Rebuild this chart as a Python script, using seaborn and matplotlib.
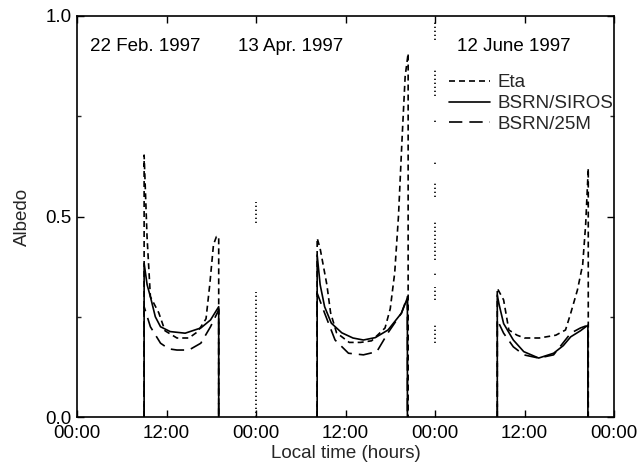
import numpy as np
import pandas as pd
import matplotlib
matplotlib.use("Agg")
import matplotlib.pyplot as plt
from matplotlib.lines import Line2D
import seaborn as sns

# ---------------- data (hours since 00:00 of first day, albedo) ----------------
siros_d1_h = [9.0, 9.0, 9.4, 9.84, 10.5, 11.2, 12.5, 14.5, 16.6, 17.9, 19.0, 19.0]
siros_d1_v = [0, 0.383, 0.33, 0.30, 0.25, 0.225, 0.213, 0.209, 0.222, 0.242, 0.275, 0]
siros_d2_h = [32.2, 32.2, 32.6, 33.2, 34.1, 35.5, 37.0, 38.4, 40.0, 41.7, 43.5, 44.3, 44.3]
siros_d2_v = [0, 0.404, 0.33, 0.275, 0.234, 0.21, 0.197, 0.192, 0.198, 0.217, 0.259, 0.297, 0]
siros_d3_h = [56.35, 56.35, 56.6, 57.2, 58.5, 59.9, 61.9, 63.9, 65.2, 66.2, 67.5, 68.5, 68.5]
siros_d3_v = [0, 0.304, 0.28, 0.233, 0.192, 0.163, 0.147, 0.159, 0.178, 0.20, 0.215, 0.229, 0]

m25_d1_h = [9.0, 9.0, 9.84, 11.2, 12.3, 13.4, 15.0, 16.6, 17.9, 19.0, 19.0]
m25_d1_v = [0, 0.275, 0.225, 0.184, 0.17, 0.167, 0.167, 0.184, 0.225, 0.267, 0]
m25_d2_h = [32.2, 32.2, 33.2, 34.6, 36.4, 38.4, 40.2, 41.7, 43.5, 44.3, 44.3]
m25_d2_v = [0, 0.309, 0.259, 0.192, 0.159, 0.155, 0.163, 0.21, 0.259, 0.30, 0]
m25_d3_h = [56.35, 56.35, 57.2, 58.5, 59.9, 61.9, 63.9, 66.2, 67.5, 68.5, 68.5]
m25_d3_v = [0, 0.242, 0.209, 0.175, 0.155, 0.147, 0.155, 0.209, 0.222, 0.229, 0]

eta_d1_h = [9.0, 9.0, 9.39, 9.84, 10.96, 11.8, 13.4, 15.0, 16.2, 17.3, 17.8, 18.3, 18.7, 19.0, 19.0]
eta_d1_v = [0, 0.653, 0.45, 0.30, 0.26, 0.215, 0.197, 0.197, 0.213, 0.245, 0.33, 0.43, 0.45, 0.45, 0]
eta_d2_h = [32.2, 32.2, 32.6, 33.0, 33.5, 34.0, 34.8, 36.5, 38.0, 39.5, 41.3, 42.0, 42.6, 43.1, 43.6, 44.0, 44.4, 44.4]
eta_d2_v = [0, 0.446, 0.42, 0.38, 0.33, 0.26, 0.21, 0.186, 0.186, 0.19, 0.222, 0.27, 0.36, 0.50, 0.70, 0.85, 0.907, 0]
eta_d3_h = [56.35, 56.35, 57.2, 57.9, 59.0, 60.0, 62.0, 64.2, 65.5, 66.2, 67.1, 67.8, 68.2, 68.55, 68.55]
eta_d3_v = [0, 0.321, 0.292, 0.217, 0.204, 0.197, 0.197, 0.204, 0.217, 0.259, 0.317, 0.38, 0.48, 0.62, 0]

# scattered night-time values at the day boundaries (bottom, top of each run)
night_h = [24, 24, 48, 48, 48, 48, 48, 48, 48, 48, 48]
night_lo = [0.0, 0.484, 0.185, 0.292, 0.355, 0.392, 0.549, 0.630, 0.735, 0.80, 0.94]
night_hi = [0.312, 0.536, 0.234, 0.324, 0.362, 0.491, 0.584, 0.636, 0.745, 0.87, 0.99]

day_labels = ["22 Feb. 1997", "13 Apr. 1997", "12 June 1997"]
day_label_x = [9.2, 28.7, 58.6]
xtick_pos = [0, 12, 24, 36, 48, 60, 72]
xtick_labels = ["00:00", "12:00", "00:00", "12:00", "00:00", "12:00", "00:00"]
ytick_pos = [0.0, 0.5, 1.0]
ytick_labels = ["0.0", "0.5", "1.0"]

# ---------------- build long table ----------------
rows = []
def add(series, seg, hs, vs):
    for h, v in zip(hs, vs):
        rows.append((series, seg, h, v))

add("BSRN/SIROS", "s1", siros_d1_h, siros_d1_v)
add("BSRN/SIROS", "s2", siros_d2_h, siros_d2_v)
add("BSRN/SIROS", "s3", siros_d3_h, siros_d3_v)
add("BSRN/25M", "m1", m25_d1_h, m25_d1_v)
add("BSRN/25M", "m2", m25_d2_h, m25_d2_v)
add("BSRN/25M", "m3", m25_d3_h, m25_d3_v)
add("Eta", "e1", eta_d1_h, eta_d1_v)
add("Eta", "e2", eta_d2_h, eta_d2_v)
add("Eta", "e3", eta_d3_h, eta_d3_v)
for i, (h, lo, hi) in enumerate(zip(night_h, night_lo, night_hi)):
    add("night", f"n{i}", [h, h], [lo, hi])

df = pd.DataFrame(rows, columns=["series", "segment", "hour", "albedo"])

# ---------------- plot ----------------
sns.set_theme(style="ticks")
plt.rcParams["font.family"] = ["Liberation Sans", "DejaVu Sans"]
plt.rcParams["xtick.direction"] = "in"
plt.rcParams["ytick.direction"] = "in"

FS = 13.5
fig = plt.figure(figsize=(6.4, 4.71), dpi=100)
ax = fig.add_axes([77 / 640, 1 - 417 / 471, 537 / 640, 401 / 471])

lw = 1.2
dashes = {"Eta": (3.6, 2.4), "BSRN/SIROS": "", "BSRN/25M": (8.0, 4.2), "night": (0.8, 1.6)}
sns.lineplot(data=df, x="hour", y="albedo", style="series", units="segment",
             estimator=None, sort=False, color="black", dashes=dashes,
             linewidth=lw, legend=False, ax=ax)

ax.set_xlim(0, 72)
ax.set_ylim(0, 1)
ax.set_xticks(xtick_pos)
ax.set_xticklabels(xtick_labels, fontsize=FS)
ax.set_yticks(ytick_pos)
ax.set_yticklabels(ytick_labels, fontsize=FS)
ax.set_yticks([0.25, 0.75], minor=True)
ax.tick_params(axis="both", which="major", direction="in", length=5, width=1,
               top=True, right=True, colors="black")
ax.tick_params(axis="x", which="major", pad=6)
ax.tick_params(axis="y", which="major", pad=4)
ax.tick_params(axis="y", which="minor", direction="in", length=3, width=1, right=True)
for sp in ax.spines.values():
    sp.set_linewidth(1.2)
    sp.set_color("black")

ax.set_xlabel("Local time (hours)", fontsize=FS, labelpad=2)
ax.set_ylabel("Albedo", fontsize=FS, labelpad=10)

for lab, x in zip(day_labels, day_label_x):
    ax.text(x, 0.925, lab, fontsize=FS, ha="center", va="center", color="black")

handles = [Line2D([], [], color="black", lw=lw, dashes=dashes["Eta"]),
           Line2D([], [], color="black", lw=lw),
           Line2D([], [], color="black", lw=lw, dashes=dashes["BSRN/25M"])]
ax.legend(handles, ["Eta", "BSRN/SIROS", "BSRN/25M"], loc="upper left",
          bbox_to_anchor=(0.693, 0.855), frameon=False, fontsize=FS,
          borderpad=0, borderaxespad=0, handlelength=2.2, handletextpad=0.4,
          labelspacing=0.2)

fig.savefig("out.png", dpi=100)
